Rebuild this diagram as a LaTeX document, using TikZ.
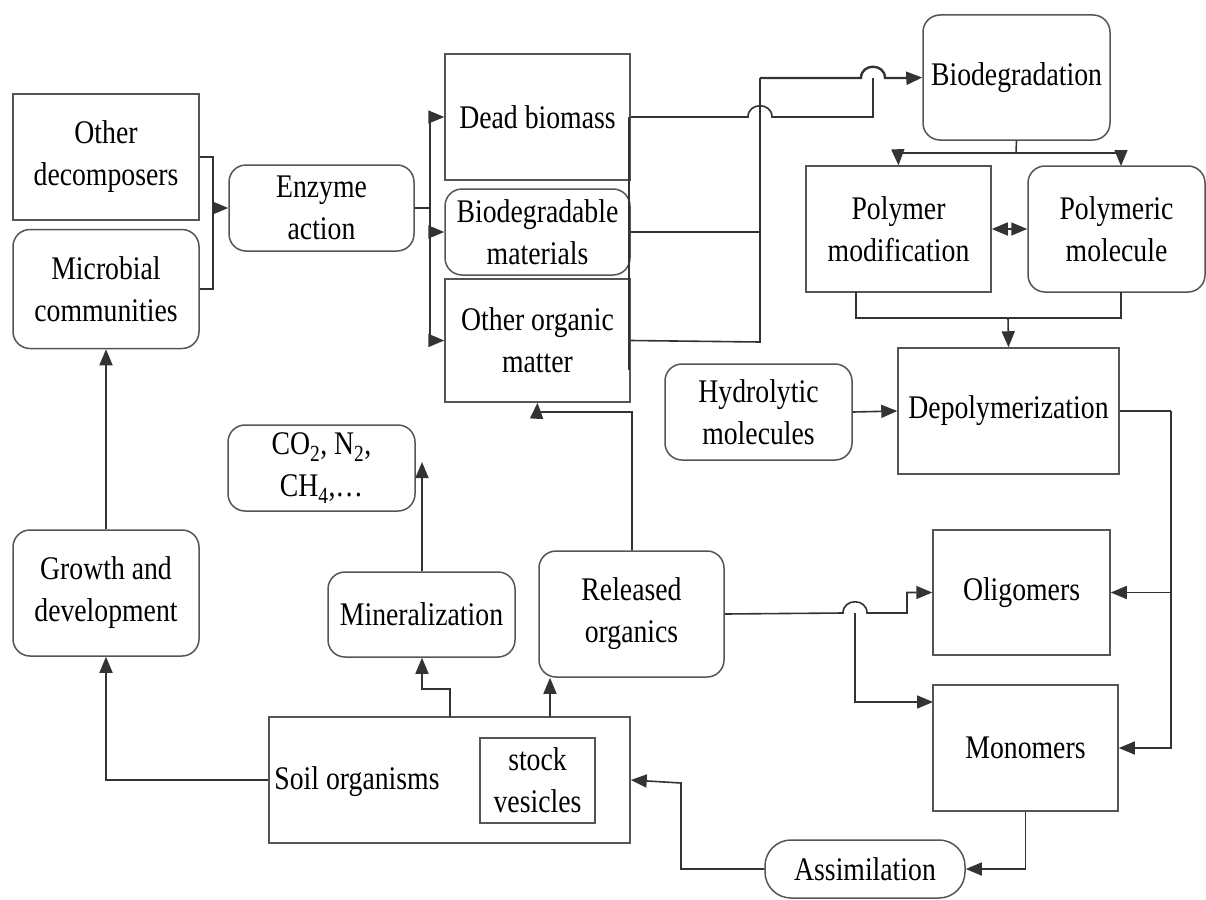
\documentclass[tikz,border=0pt]{standalone}
\usepackage{fontspec}
\setmainfont{Liberation Serif}[FakeStretch=0.84]
\usetikzlibrary{arrows.meta}
\definecolor{boxc}{HTML}{555555}
\definecolor{linec}{HTML}{333333}
\begin{document}
\begin{tikzpicture}[x=1pt,y=-1pt,
  every node/.style={font=\fontsize{33}{42}\selectfont, align=center, inner sep=0pt, text=black},
  sq/.style={draw=boxc, line width=1.5pt, rectangle},
  rnd/.style={sq, rounded corners=17pt},
  ln/.style={draw=linec, line width=1.6pt},
  arr/.style={ln, -{Triangle[length=16pt,width=13pt]}},
  arrb/.style={ln, {Triangle[length=16pt,width=13pt]}-{Triangle[length=16pt,width=13pt]}}]
\useasboundingbox (0,0) rectangle (1206,899);
\fill[white] (0,0) rectangle (1206,899);

% nodes
\node[sq,  minimum width=186pt, minimum height=126pt] (od) at (106,157) {Other\\decomposers};
\node[rnd, minimum width=186pt, minimum height=119pt] (mc) at (106,289) {Microbial\\communities};
\node[rnd, minimum width=185pt, minimum height=86pt]  (ea) at (321.5,208) {Enzyme\\action};
\node[sq,  minimum width=185pt, minimum height=126pt] (db) at (537.5,117) {Dead biomass};
\node[rnd, minimum width=185pt, minimum height=86pt]  (bm) at (537.5,232) {Biodegradable\\materials};
\node[sq,  minimum width=185pt, minimum height=123pt] (oo) at (537.5,340.5) {Other organic\\matter};
\node[rnd, minimum width=187pt, minimum height=125pt] (bd) at (1016.5,77.5) {Biodegradation};
\node[sq,  minimum width=185pt, minimum height=126pt] (pm) at (898.5,229) {Polymer\\modification};
\node[rnd, minimum width=177pt, minimum height=126pt] (pl) at (1116.5,229) {Polymeric\\molecule};
\node[sq,  minimum width=221pt, minimum height=126pt] (dp) at (1008.5,411) {Depolymerization};
\node[rnd, minimum width=187pt, minimum height=96pt]  (hm) at (758.5,412) {Hydrolytic\\molecules};
\node[rnd, minimum width=187pt, minimum height=86pt]  (co) at (321.5,468) {CO\textsubscript{2}, N\textsubscript{2},\\CH\textsubscript{4},…};
\node[rnd, minimum width=186pt, minimum height=126pt] (gd) at (106,593) {Growth and\\development};
\node[rnd, minimum width=187pt, minimum height=85pt]  (mn) at (421.5,614.5) {Mineralization};
\node[rnd, minimum width=185pt, minimum height=126pt] (ro) at (631.5,614) {Released\\organics};
\node[sq,  minimum width=177pt, minimum height=125pt] (ol) at (1021.5,592.5) {Oligomers};
\node[sq,  minimum width=185pt, minimum height=126pt] (mo) at (1025.5,748) {Monomers};
\node[sq,  minimum width=361pt, minimum height=126pt] (so) at (449.5,780) {};
\node (sot) at (357,782) {Soil organisms};
\node[sq,  minimum width=115pt, minimum height=85pt]  (sv) at (537.5,780.5) {stock\\vesicles};
\node[rnd, rounded corners=26pt, minimum width=200pt, minimum height=58pt] (as) at (865,869) {Assimilation};

% junction coordinates
\coordinate (j1) at (213,208);
\coordinate (j2) at (430,208);
\coordinate (j3) at (760,78);
\coordinate (j4) at (873,117);
\coordinate (j5) at (1016,153);
\coordinate (j6) at (1008,318);
\coordinate (j7) at (1171,411);
\coordinate (j8) at (855,613);
\coordinate (m1) at (933,702);
\coordinate (pa) at (1121,166);
\coordinate (gas) at (422,462);

% decomposers -> enzyme action
\draw[ln] (od.east) -- (213,157) -- (213,289) -- (mc.east);
\draw[arr] (j1) -- (ea.west);
% enzyme action -> three substrates
\draw[ln] (ea.east) -- (j2);
\draw[arr] (j2) |- (db.west);
\draw[arr] (j2) |- (bm.west);
\draw[arr] (j2) |- (oo.west);
\draw[line width=2.2pt, linec] (629,117) -- (629,370);
% substrates -> biodegradation
\draw[ln] (db.east) -- (748,117) .. controls (748,102) and (772,102) .. (772,117) -- (j4) -- (873,78);
\draw[ln] (bm.east) -- (760,232);
\draw[ln] (oo.east) -- (760,342) -- (j3);
\draw[linec, line width=2.4pt] (j3) -- (861,78) .. controls (861,63) and (885,63) .. (885,78) -- (912,78);
\draw[arr, line width=2.4pt] (j3) ++(152,0) -- (bd.west);
% biodegradation -> polymer boxes
\draw[ln] (bd.south) -- (j5);
\draw[ln] (898,153) -- (1121,153);
\draw[arr] (898,153) -- (pm.north);
\draw[arr] (1121,153) -- (pa);
\draw[arrb] (pm.east) -- (pl.west);
% polymer boxes -> depolymerization
\draw[ln] (856,292) -- (856,318) -- (1121,318) -- (1121,292);
\draw[arr] (j6) -- (dp.north);
\draw[arr] (hm.east) -- (dp.west);
% depolymerization -> oligomers / monomers
\draw[ln] (dp.east) -- (j7);
\draw[arr] (j7) |- (mo.east);
\draw[arr] (1171,592.5) -- (ol.east);
% released organics -> oligomers / monomers
\draw[arr] (ro.east) -- (843,613) .. controls (843,598) and (867,598) .. (867,613) -- (907,613) -- (907,592.5) -- (ol.west);
\draw[arr] (j8) |- (m1);
% monomers -> assimilation -> soil organisms
\draw[arr] (mo.south) |- (as.east);
\draw[arr] (as.west) -- (681,869) -- (681,783) -- (so.east);
% soil organisms outputs
\draw[arr] (so.west) -| (gd.south);
\draw[arr] (gd.north) -- (mc.south);
\draw[arr] (450,717) -- (450,689) -- (422,689) -- (mn.south -| 422,0);
\draw[arr] (550,717) -- (ro.south -| 550,0);
\draw[arr] (mn.north -| 422,0) -- (gas);
\draw[arr] (ro.north -| 632,0) -- (632,412) -- (537,412) -- (oo.south);
\end{tikzpicture}
\end{document}
